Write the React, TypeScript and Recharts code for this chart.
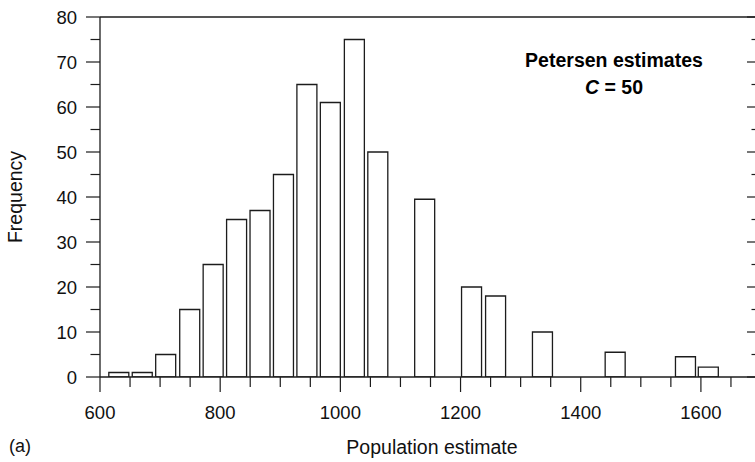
import { ComposedChart, Bar, XAxis, YAxis } from "recharts";

// bin centres (population estimate) and how many runs fell in each
const estimates = [632, 671, 710, 750, 789, 828, 867, 906, 945, 984, 1024, 1063, 1141, 1219, 1259, 1337, 1458, 1575, 1613];
const frequencies = [1, 1, 5, 15, 25, 35, 37, 45, 65, 61, 75, 50, 39.5, 20, 18, 10, 5.5, 4.5, 2.2];

const xTicks = [600, 650, 700, 750, 800, 850, 900, 950, 1000, 1050, 1100, 1150, 1200, 1250, 1300, 1350, 1400, 1450, 1500, 1550, 1600, 1650, 1700];
const yTicks = [0, 5, 10, 15, 20, 25, 30, 35, 40, 45, 50, 55, 60, 65, 70, 75, 80];

const data = estimates.map((est, i) => ({ est, count: frequencies[i] }));

const FONT = '"Liberation Sans", Arial, Helvetica, sans-serif';
const INK = "#1c1c1c";

function BottomTick({ x, y, payload }: any) {
  const major = payload.value % 200 === 0;
  return (
    <g>
      <line x1={x} x2={x} y1={y} y2={y + (major ? 15 : 10)} stroke={INK} strokeWidth={1.2} />
      {major && (
        <text x={x} y={y + 42} textAnchor="middle" fontSize={18.5} fontFamily={FONT} fill="#111">
          {payload.value}
        </text>
      )}
    </g>
  );
}

function TopTick({ x, y, payload }: any) {
  const major = payload.value % 200 === 0;
  return <line x1={x} x2={x} y1={y} y2={y + (major ? 15 : 10)} stroke={INK} strokeWidth={1.2} />;
}

function LeftTick({ x, y, payload }: any) {
  const major = payload.value % 10 === 0;
  return (
    <g>
      <line x1={x} x2={x - (major ? 14 : 9.5)} y1={y} y2={y} stroke={INK} strokeWidth={1.2} />
      {major && (
        <text x={x - 23} y={y} dy="0.36em" textAnchor="end" fontSize={18.5} fontFamily={FONT} fill="#111">
          {payload.value}
        </text>
      )}
    </g>
  );
}

function RightTick({ x, y, payload }: any) {
  const major = payload.value % 10 === 0;
  return <line x1={x} x2={x - (major ? 14 : 9.5)} y1={y} y2={y} stroke={INK} strokeWidth={1.2} />;
}

export default function App() {
  return (
    <div style={{ position: "absolute", left: 0, top: 0, width: 755, height: 462, overflow: "hidden", background: "#fff" }}>
      <ComposedChart width={790} height={462} data={data} margin={{ top: 16, right: 28, bottom: 0, left: 0 }}>
        <XAxis
          dataKey="est"
          type="number"
          domain={[600, 1700]}
          ticks={xTicks}
          interval={0}
          allowDataOverflow
          height={85}
          tickSize={0}
          tickMargin={0}
          tickLine={false}
          axisLine={{ stroke: INK, strokeWidth: 1.3 }}
          tick={<BottomTick />}
        />
        <XAxis
          xAxisId="top"
          orientation="top"
          type="number"
          domain={[600, 1700]}
          ticks={xTicks}
          interval={0}
          allowDataOverflow
          height={1}
          tickSize={0}
          tickMargin={0}
          tickLine={false}
          axisLine={{ stroke: INK, strokeWidth: 1.3 }}
          tick={<TopTick />}
        />
        <YAxis
          type="number"
          domain={[0, 80]}
          ticks={yTicks}
          interval={0}
          allowDataOverflow
          width={100}
          tickSize={0}
          tickMargin={0}
          tickLine={false}
          axisLine={{ stroke: INK, strokeWidth: 1.3 }}
          tick={<LeftTick />}
        />
        <YAxis
          yAxisId="right"
          orientation="right"
          type="number"
          domain={[0, 80]}
          ticks={yTicks}
          interval={0}
          allowDataOverflow
          width={1}
          tickSize={0}
          tickMargin={0}
          tickLine={false}
          axisLine={{ stroke: INK, strokeWidth: 1.3 }}
          tick={<RightTick />}
        />
        <Bar dataKey="count" barSize={20} fill="#fff" stroke={INK} strokeWidth={1.3} isAnimationActive={false} />
      </ComposedChart>
      <svg width={755} height={462} style={{ position: "absolute", left: 0, top: 0, pointerEvents: "none" }} fontFamily={FONT}>
        <text x={22} y={197} transform="rotate(-90 22 197)" textAnchor="middle" fontSize={19.5} fill="#111">
          Frequency
        </text>
        <text x={432} y={454} textAnchor="middle" fontSize={19.5} fill="#111">
          Population estimate
        </text>
        <text x={9} y={452} fontSize={18} fill="#111">
          (a)
        </text>
        <text x={614} y={67} textAnchor="middle" fontSize={19.5} fontWeight="bold" fill="#000">
          Petersen estimates
        </text>
        <text x={614} y={94} textAnchor="middle" fontSize={19.5} fontWeight="bold" fill="#000">
          <tspan fontStyle="italic">C</tspan> = 50
        </text>
      </svg>
    </div>
  );
}
